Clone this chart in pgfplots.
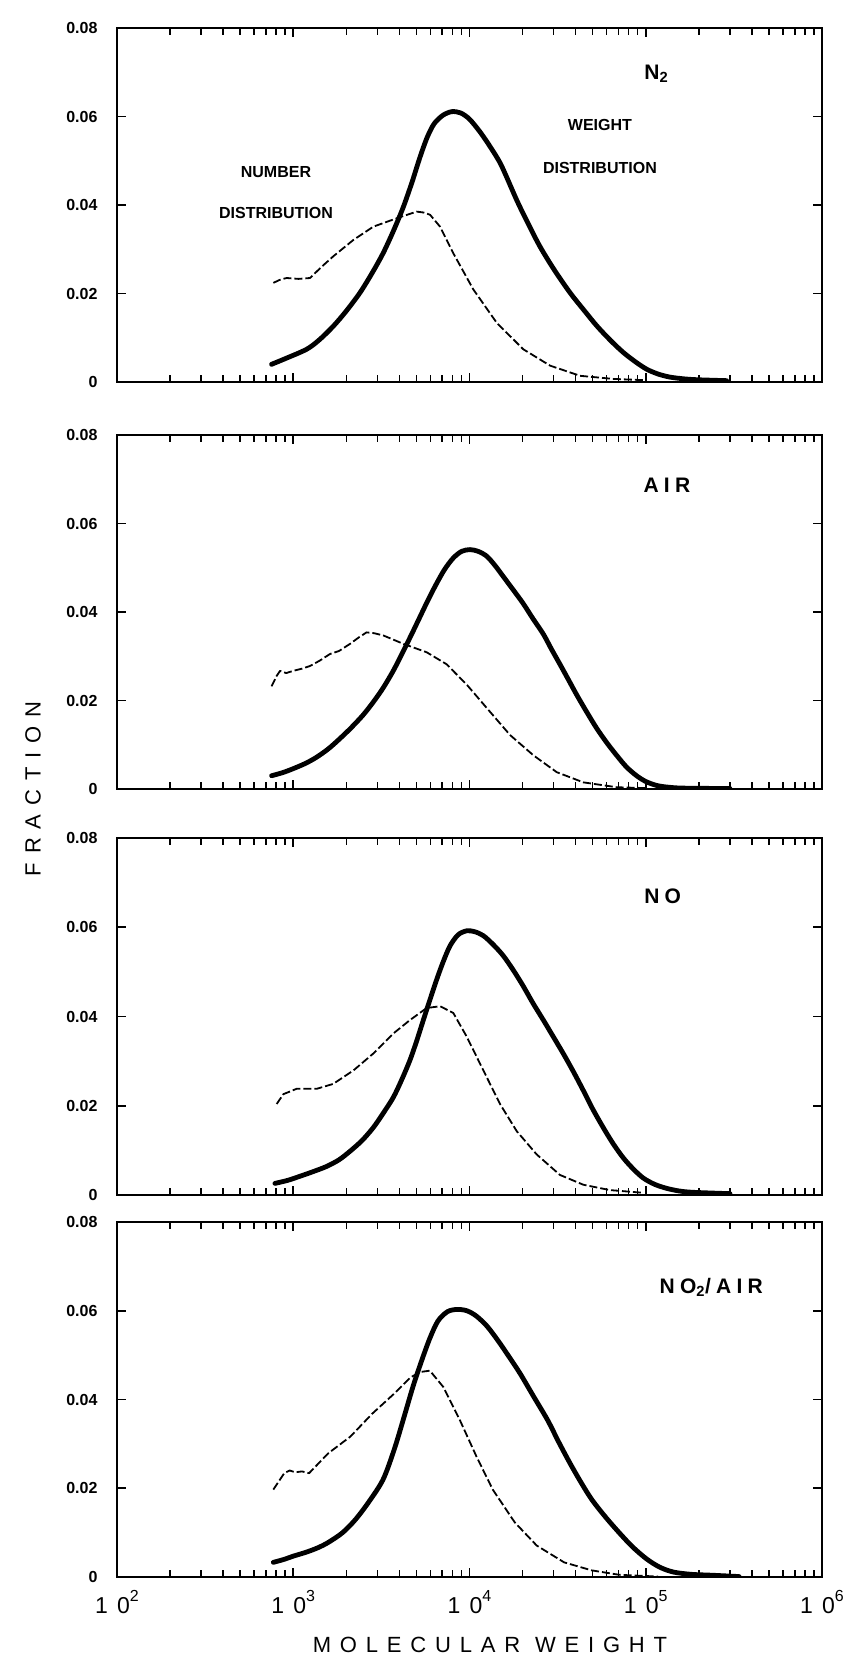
\documentclass[border=0pt]{standalone}
\usepackage{pgfplots}
\pgfplotsset{compat=1.18}
\usepackage{fontspec}
\setmainfont{Liberation Sans}
\newfontfamily\spaced[LetterSpace=40]{Liberation Sans}
\newfontfamily\spacedlab[LetterSpace=25]{Liberation Sans}
\newcommand{\dec}[1]{{\spaced 10}\raisebox{0.5em}{\fontsize{16}{16}\selectfont #1}}

\pgfplotstableread{
lx v
2.877 0.0040
2.950 0.0052
3.076 0.0074
3.150 0.0096
3.227 0.0126
3.300 0.0160
3.379 0.0202
3.450 0.0248
3.511 0.0292
3.570 0.0343
3.625 0.0396
3.675 0.0453
3.719 0.0508
3.760 0.0553
3.800 0.0584
3.850 0.0603
3.900 0.0611
3.950 0.0608
4.000 0.0594
4.060 0.0565
4.120 0.0530
4.180 0.0490
4.268 0.0411
4.330 0.0360
4.400 0.0306
4.480 0.0254
4.570 0.0202
4.650 0.0162
4.722 0.0127
4.800 0.0094
4.872 0.0067
4.940 0.0046
5.005 0.0029
5.070 0.0018
5.138 0.0011
5.220 0.0007
5.300 0.0005
5.459 0.0003
}\nTwoW
\pgfplotstableread{
lx v
2.887 0.0224
2.930 0.0232
2.963 0.0235
3.030 0.0233
3.095 0.0235
3.160 0.0260
3.227 0.0284
3.341 0.0321
3.454 0.0351
3.587 0.0370
3.700 0.0385
3.740 0.0383
3.776 0.0378
3.833 0.0351
3.908 0.0291
4.022 0.0209
4.154 0.0134
4.305 0.0074
4.457 0.0037
4.627 0.0014
4.815 0.0007
5.000 0.0004
}\nTwoN
\pgfplotstableread{
lx v
2.877 0.0030
2.940 0.0037
3.000 0.0046
3.070 0.0058
3.133 0.0072
3.200 0.0091
3.265 0.0114
3.330 0.0139
3.398 0.0168
3.455 0.0197
3.511 0.0229
3.570 0.0269
3.625 0.0312
3.672 0.0350
3.719 0.0389
3.766 0.0428
3.814 0.0465
3.860 0.0497
3.908 0.0522
3.955 0.0537
4.003 0.0541
4.050 0.0537
4.098 0.0526
4.145 0.0505
4.192 0.0480
4.250 0.0449
4.305 0.0419
4.360 0.0385
4.419 0.0350
4.465 0.0316
4.513 0.0282
4.560 0.0248
4.608 0.0213
4.665 0.0174
4.722 0.0137
4.780 0.0104
4.835 0.0076
4.890 0.0050
4.948 0.0030
5.000 0.0017
5.062 0.0008
5.130 0.0004
5.213 0.0002
5.478 0.0001
}\airW
\pgfplotstableread{
lx v
2.877 0.0232
2.905 0.0255
2.925 0.0267
2.960 0.0262
3.000 0.0267
3.050 0.0272
3.095 0.0278
3.150 0.0290
3.208 0.0305
3.260 0.0312
3.322 0.0328
3.370 0.0342
3.416 0.0354
3.460 0.0352
3.511 0.0347
3.625 0.0328
3.757 0.0309
3.870 0.0282
3.984 0.0236
4.098 0.0183
4.230 0.0122
4.363 0.0076
4.495 0.0038
4.646 0.0015
4.835 0.0004
5.000 0.0002
}\airN
\pgfplotstableread{
lx v
2.896 0.0026
2.970 0.0033
3.038 0.0042
3.110 0.0052
3.189 0.0064
3.260 0.0079
3.322 0.0098
3.390 0.0122
3.454 0.0151
3.510 0.0183
3.568 0.0219
3.615 0.0258
3.662 0.0302
3.700 0.0345
3.738 0.0392
3.776 0.0438
3.814 0.0483
3.850 0.0522
3.889 0.0558
3.935 0.0583
3.984 0.0592
4.030 0.0590
4.079 0.0581
4.135 0.0561
4.192 0.0536
4.250 0.0503
4.305 0.0468
4.360 0.0430
4.419 0.0392
4.475 0.0355
4.532 0.0317
4.590 0.0276
4.646 0.0234
4.700 0.0192
4.759 0.0151
4.815 0.0115
4.873 0.0083
4.930 0.0058
4.986 0.0038
5.050 0.0024
5.118 0.0015
5.190 0.0009
5.270 0.0006
5.478 0.0003
}\noW
\pgfplotstableread{
lx v
2.906 0.0204
2.944 0.0226
3.019 0.0238
3.133 0.0238
3.227 0.0249
3.341 0.0279
3.454 0.0317
3.568 0.0362
3.662 0.0392
3.757 0.0419
3.833 0.0423
3.908 0.0408
3.984 0.0355
4.079 0.0279
4.173 0.0204
4.268 0.0143
4.381 0.0091
4.513 0.0045
4.646 0.0023
4.797 0.0011
4.986 0.0005
}\noN
\pgfplotstableread{
lx v
2.887 0.0033
2.950 0.0040
3.000 0.0047
3.074 0.0056
3.140 0.0066
3.199 0.0078
3.280 0.0100
3.354 0.0130
3.430 0.0170
3.510 0.0220
3.575 0.0290
3.634 0.0368
3.680 0.0430
3.728 0.0487
3.775 0.0538
3.821 0.0577
3.875 0.0598
3.930 0.0603
3.985 0.0600
4.039 0.0588
4.100 0.0565
4.163 0.0532
4.225 0.0496
4.288 0.0458
4.365 0.0406
4.444 0.0353
4.505 0.0305
4.568 0.0258
4.630 0.0215
4.693 0.0175
4.770 0.0136
4.849 0.0100
4.925 0.0068
5.004 0.0041
5.080 0.0022
5.159 0.0011
5.260 0.0006
5.377 0.0004
5.530 0.0001
}\notwoW
\pgfplotstableread{
lx v
2.887 0.0197
2.949 0.0234
2.980 0.0240
3.012 0.0236
3.050 0.0238
3.090 0.0234
3.199 0.0279
3.323 0.0316
3.448 0.0368
3.572 0.0413
3.666 0.0450
3.720 0.0462
3.775 0.0465
3.852 0.0428
3.946 0.0353
4.039 0.0272
4.132 0.0197
4.257 0.0123
4.381 0.0071
4.537 0.0033
4.693 0.0015
4.849 0.0005
5.070 0.0001
}\notwoN

\pgfplotsset{
  panel/.style={
    scale only axis, width=705pt, anchor=north west,
    xmin=2, xmax=6, ymin=0, ymax=0.08,
    xtick={2,3,4,5,6}, xticklabels={},
    minor xtick={2.30103,2.47712,2.60206,2.69897,2.77815,2.84510,2.90309,2.95424,
                 3.30103,3.47712,3.60206,3.69897,3.77815,3.84510,3.90309,3.95424,
                 4.30103,4.47712,4.60206,4.69897,4.77815,4.84510,4.90309,4.95424,
                 5.30103,5.47712,5.60206,5.69897,5.77815,5.84510,5.90309,5.95424},
    ytick={0,0.02,0.04,0.06,0.08}, yticklabels={0,0.02,0.04,0.06,0.08},
    scaled y ticks=false,
    yticklabel style={font=\fontsize{16}{16}\selectfont\bfseries, xshift=-16pt},
    tick align=inside, xtick pos=both, ytick pos=both,
    major tick length=9pt, minor tick length=7pt,
    axis line style={line width=2.2pt},
    every tick/.style={line width=1.6pt, black},
  },
  wdist/.style={black, line width=4.8pt, smooth, line cap=round, line join=round},
  ndist/.style={black, line width=1.8pt, dash pattern=on 8pt off 3pt, line join=round},
}
\tikzset{
  plab/.style={font=\fontsize{21}{21}\selectfont\bfseries\spacedlab},
  slab/.style={font=\fontsize{16}{16}\selectfont\bfseries},
}

\begin{document}
\begin{tikzpicture}
\path[use as bounding box] (0pt,0pt) rectangle (859pt,-1660pt);

\begin{axis}[panel, height=354pt, at={(117pt,-28pt)}]
  \addplot[wdist] table[x=lx, y=v] {\nTwoW};
  \addplot[ndist] table[x=lx, y=v] {\nTwoN};
  \node[plab] at (rel axis cs:0.765,0.87) {N\textsubscript{2}};
  \node[slab] at (rel axis cs:0.2255,0.593) {NUMBER};
  \node[slab] at (rel axis cs:0.2255,0.477) {DISTRIBUTION};
  \node[slab] at (rel axis cs:0.685,0.726) {WEIGHT};
  \node[slab] at (rel axis cs:0.685,0.605) {DISTRIBUTION};
\end{axis}

\begin{axis}[panel, height=354pt, at={(117pt,-435pt)}]
  \addplot[wdist] table[x=lx, y=v] {\airW};
  \addplot[ndist] table[x=lx, y=v] {\airN};
  \node[plab] at (rel axis cs:0.78,0.859) {AIR};
\end{axis}

\begin{axis}[panel, height=357pt, at={(117pt,-838pt)}]
  \addplot[wdist] table[x=lx, y=v] {\noW};
  \addplot[ndist] table[x=lx, y=v] {\noN};
  \node[plab] at (rel axis cs:0.774,0.838) {NO};
\end{axis}

\begin{axis}[panel, height=355pt, at={(117pt,-1222pt)},
  xticklabels={\dec{2},\dec{3},\dec{4},\dec{5},\dec{6}},
  xticklabel style={font=\fontsize{23}{23}\selectfont, yshift=-10pt}]
  \addplot[wdist] table[x=lx, y=v] {\notwoW};
  \addplot[ndist] table[x=lx, y=v] {\notwoN};
  \node[plab] at (rel axis cs:0.843,0.817) {NO\textsubscript{2}/AIR};
\end{axis}

\node[font=\fontsize{22}{22}\selectfont\spaced, rotate=90] at (33pt,-789pt) {FRACTION};
\node[font=\fontsize{22}{22}\selectfont\spaced] at (490pt,-1645pt) {MOLECULAR WEIGHT};
\end{tikzpicture}
\end{document}
